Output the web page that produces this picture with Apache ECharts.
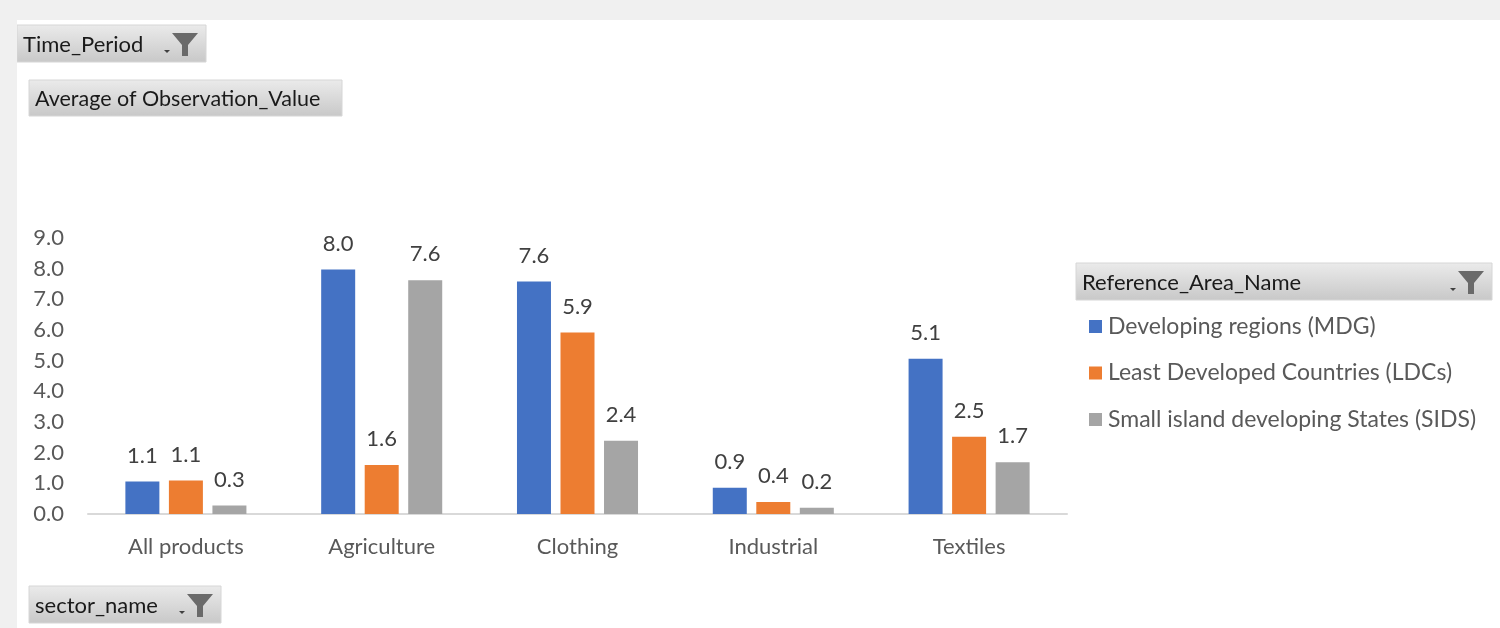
<!DOCTYPE html>
<html>
<head>
<meta charset="utf-8">
<script src="https://cdn.jsdelivr.net/npm/echarts@6/dist/echarts.min.js"></script>
<style>
  html, body { margin: 0; padding: 0; background: #f0f0f0; }
  #chart { position: absolute; left: 17px; top: 20px; width: 1483px; height: 608px; background: #ffffff; }
</style>
</head>
<body>
<div id="chart"></div>
<script>
// Sectors on the category axis
const categories = ['All products', 'Agriculture', 'Clothing', 'Industrial', 'Textiles'];

// Average observation value per reference area
const seriesNames = [
  'Developing regions (MDG)',
  'Least Developed Countries (LDCs)',
  'Small island developing States (SIDS)'
];
const mdgValues  = [1.06, 7.97, 7.58, 0.86, 5.06];
const ldcValues  = [1.09, 1.60, 5.92, 0.39, 2.52];
const sidsValues = [0.28, 7.62, 2.39, 0.20, 1.69];

// Value-axis tick range
const yMin = 0;
const yMax = 9;
const yStep = 1;

const colors = ['#4472c4', '#ed7d31', '#a5a5a5'];
const FONT = 'Lato, "Open Sans", sans-serif';

const chart = echarts.init(document.getElementById('chart'), null, { renderer: 'canvas' });

// Pivot-style field buttons (gradient grey box + caption + optional funnel icon)
function fieldButton(x, y, w, h, text, fontSize, withFunnel) {
  const children = [
    {
      type: 'rect',
      shape: { x: 0, y: 0, width: w, height: h },
      style: {
        fill: new echarts.graphic.LinearGradient(0, 0, 0, 1, [
          { offset: 0, color: '#ebebeb' },
          { offset: 1, color: '#c8c8c8' }
        ]),
        stroke: '#d6d6d6', lineWidth: 1
      }
    },
    {
      type: 'text',
      style: { x: 6, y: h / 2 + 1, text: text, fill: '#1a1a1a', font: fontSize + 'px ' + FONT, verticalAlign: 'middle' }
    }
  ];
  if (withFunnel) {
    const fx = w - 34;
    children.push({
      type: 'polygon',
      shape: { points: [[fx, 8], [fx + 26, 8], [fx + 16, 20], [fx + 16, 31], [fx + 10, 31], [fx + 10, 20]] },
      style: { fill: '#6a6a6a' }
    });
    children.push({
      type: 'polygon',
      shape: { points: [[fx - 8, 25], [fx - 2, 25], [fx - 5, 28]] },
      style: { fill: '#404040' }
    });
  }
  return { type: 'group', x: x, y: y, silent: true, children: children };
}

const labelOpt = {
  show: true,
  position: 'top',
  distance: 15,
  color: '#404040',
  fontSize: 22,
  fontFamily: FONT,
  formatter: p => p.value.toFixed(1)
};

function barSeries(name, data, i) {
  return {
    name: name,
    type: 'bar',
    data: data,
    barWidth: 34,
    barGap: '28%',
    itemStyle: { color: colors[i] },
    label: labelOpt,
    emphasis: { disabled: true }
  };
}

chart.setOption({
  animation: false,
  textStyle: { fontFamily: FONT },
  grid: { left: 71, right: 433, top: 218, bottom: 114, containLabel: false },
  legend: {
    orient: 'vertical',
    left: 1067,
    top: 290,
    icon: 'rect',
    itemWidth: 13,
    itemHeight: 13,
    itemGap: 23.5,
    textStyle: { color: '#595959', fontSize: 23, lineHeight: 22, fontFamily: FONT, padding: [0, 0, 0, 1] },
    data: seriesNames,
    selectedMode: false
  },
  xAxis: {
    type: 'category',
    data: categories,
    axisLine: { show: true, lineStyle: { color: '#d9d9d9', width: 2 } },
    axisTick: { show: false },
    axisLabel: { color: '#595959', fontSize: 22, fontFamily: FONT, margin: 22 }
  },
  yAxis: {
    type: 'value',
    min: yMin,
    max: yMax,
    interval: yStep,
    axisLine: { show: false },
    axisTick: { show: false },
    splitLine: { show: false },
    axisLabel: { color: '#595959', fontSize: 22, fontFamily: FONT, margin: 24, formatter: v => v.toFixed(1) }
  },
  series: [
    barSeries(seriesNames[0], mdgValues, 0),
    barSeries(seriesNames[1], ldcValues, 1),
    barSeries(seriesNames[2], sidsValues, 2)
  ],
  graphic: [
    fieldButton(0, 5, 189, 37, 'Time_Period', 22, true),
    fieldButton(12, 60, 313, 36, 'Average of Observation_Value', 21.5, false),
    fieldButton(1059, 243, 416, 37, 'Reference_Area_Name', 22, true),
    fieldButton(12, 566, 192, 37, 'sector_name', 22, true)
  ]
});
</script>
</body>
</html>
